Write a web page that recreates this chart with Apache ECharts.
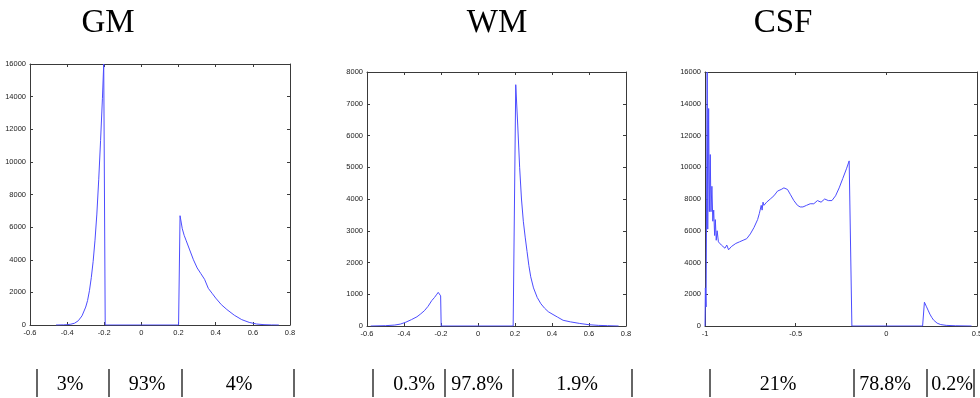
<!DOCTYPE html>
<html>
<head>
<meta charset="utf-8">
<script src="https://cdn.jsdelivr.net/npm/echarts@6/dist/echarts.min.js"></script>
<style>
  html, body { margin: 0; padding: 0; background: #fff; }
  #chart { width: 980px; height: 398px; }
</style>
</head>
<body>
<div id="chart"></div>
<script>
// panel titles and the share row under each panel
const titles = ['GM', 'WM', 'CSF']
const gmShares = ['3%', '93%', '4%']
const wmShares = ['0.3%', '97.8%', '1.9%']
const csfShares = ['21%', '78.8%', '0.2%']

// GM histogram
const gmX = [-0.46, -0.42, -0.40, -0.38, -0.36, -0.34, -0.32, -0.30, -0.29, -0.28, -0.27, -0.26, -0.25, -0.24, -0.23, -0.22, -0.21, -0.203, -0.195, 0, 0.2, 0.208, 0.22, 0.23, 0.24, 0.26, 0.28, 0.30, 0.32, 0.34, 0.36, 0.38, 0.40, 0.43, 0.46, 0.50, 0.54, 0.58, 0.62, 0.66, 0.70, 0.74]
const gmY = [0, 10, 20, 50, 110, 260, 560, 1100, 1500, 2100, 2900, 3900, 5200, 6800, 8900, 11300, 13900, 16000, 0, 0, 0, 6700, 5900, 5500, 5200, 4600, 4000, 3500, 3150, 2800, 2250, 1950, 1650, 1250, 950, 600, 330, 160, 60, 20, 5, 0]

// WM histogram
const wmX = [-0.58, -0.50, -0.45, -0.42, -0.39, -0.36, -0.33, -0.31, -0.29, -0.27, -0.25, -0.235, -0.225, -0.215, -0.207, -0.202, -0.199, 0.19, 0.204, 0.215, 0.225, 0.235, 0.245, 0.255, 0.265, 0.275, 0.285, 0.30, 0.32, 0.34, 0.36, 0.38, 0.40, 0.43, 0.46, 0.50, 0.55, 0.60, 0.65, 0.70, 0.76]
const wmY = [0, 10, 30, 60, 120, 200, 290, 380, 480, 620, 800, 900, 980, 1060, 1020, 950, 0, 0, 7600, 6300, 5000, 4000, 3300, 2800, 2350, 1900, 1550, 1200, 900, 700, 560, 450, 380, 280, 180, 130, 80, 40, 20, 10, 0]

// CSF histogram
const csfX = [-1.0, -0.998, -0.994, -0.988, -0.985, -0.980, -0.976, -0.971, -0.967, -0.962, -0.957, -0.952, -0.947, -0.943, -0.938, -0.933, -0.926, -0.918, -0.910, -0.900, -0.890, -0.880, -0.870, -0.862, -0.855, -0.845, -0.83, -0.81, -0.79, -0.77, -0.75, -0.73, -0.71, -0.70, -0.69, -0.685, -0.68, -0.675, -0.66, -0.64, -0.62, -0.60, -0.58, -0.565, -0.555, -0.545, -0.53, -0.51, -0.49, -0.475, -0.46, -0.44, -0.42, -0.40, -0.38, -0.36, -0.34, -0.32, -0.30, -0.28, -0.26, -0.24, -0.22, -0.205, -0.19, 0.2, 0.21, 0.22, 0.23, 0.24, 0.25, 0.26, 0.28, 0.30, 0.33, 0.38, 0.47]
const csfY = [0, 2400, 1200, 16000, 6100, 13700, 7200, 10800, 7200, 8800, 6600, 7300, 5700, 6700, 5400, 6000, 5300, 5400, 5100, 5000, 4900, 5100, 4800, 4700, 5000, 5100, 5200, 5300, 5400, 5500, 5800, 6200, 6700, 7100, 7600, 7300, 7800, 7600, 7800, 8000, 8200, 8500, 8600, 8700, 8600, 8600, 8300, 7900, 7600, 7500, 7500, 7600, 7700, 7700, 7900, 7800, 8000, 7900, 7900, 8200, 8700, 9300, 9900, 10400, 0, 0, 1500, 1250, 1000, 750, 550, 380, 180, 90, 40, 15, 0]

// axis ranges [min, max, interval]
const gmXAxis = [-0.6, 0.8, 0.2], gmYAxis = [0, 16000, 2000]
const wmXAxis = [-0.6, 0.8, 0.2], wmYAxis = [0, 8000, 1000]
const csfXAxis = [-1, 0.5, 0.5], csfYAxis = [0, 16000, 2000]

// layout (pixels)
const grids = [
  { left: 30, top: 64, width: 260, height: 261 },
  { left: 367, top: 72, width: 259, height: 254 },
  { left: 705, top: 72, width: 272, height: 254 },
]
const titleCenters = [108, 497, 783]
const shareCenters = [[70, 147, 239], [414, 477, 577], [778, 885, 952]]
const separators = [[37, 109, 182, 294], [373, 445, 513, 632], [710, 854, 927, 974]]

const zip = (xs, ys) => xs.map((x, i) => [x, ys[i]])
const panels = [
  { data: zip(gmX, gmY), xa: gmXAxis, ya: gmYAxis, shares: gmShares },
  { data: zip(wmX, wmY), xa: wmXAxis, ya: wmYAxis, shares: wmShares },
  { data: zip(csfX, csfY), xa: csfXAxis, ya: csfYAxis, shares: csfShares },
]

const labelFont = '"Liberation Sans Narrow", "Liberation Sans", Arial, sans-serif'
const boxColor = '#3a3a3a'

const xAxes = [], yAxes = [], series = [], graphic = []
panels.forEach((p, i) => {
  const base = {
    type: 'value',
    gridIndex: i,
    splitLine: { show: false },
    axisLine: { show: true, onZero: false, lineStyle: { color: boxColor, width: 1 } },
    axisTick: { show: true, inside: true, length: 3, lineStyle: { color: boxColor } },
  }
  xAxes.push({
    ...base, position: 'bottom', min: p.xa[0], max: p.xa[1], interval: p.xa[2],
    axisLabel: { color: '#222', fontSize: 7.5, fontFamily: labelFont, margin: 4, formatter: (v) => String(v) },
  })
  xAxes.push({
    ...base, position: 'top', min: p.xa[0], max: p.xa[1], interval: p.xa[2],
    axisLabel: { show: false },
  })
  yAxes.push({
    ...base, position: 'left', min: p.ya[0], max: p.ya[1], interval: p.ya[2],
    axisLabel: { color: '#222', fontSize: 7.5, fontFamily: labelFont, margin: 4, formatter: (v) => String(v) },
  })
  yAxes.push({
    ...base, position: 'right', min: p.ya[0], max: p.ya[1], interval: p.ya[2],
    axisLabel: { show: false },
  })
  series.push({
    type: 'line',
    xAxisIndex: i * 2,
    yAxisIndex: i * 2,
    data: p.data,
    showSymbol: false,
    lineStyle: { color: '#4c4cff', width: 1 },
    silent: true,
  })

  graphic.push({
    type: 'text', x: titleCenters[i], y: 23,
    style: {
      text: titles[i], fill: '#000', font: '33px "Liberation Serif", "Times New Roman", serif',
      align: 'center', verticalAlign: 'middle',
    },
  })
  p.shares.forEach((s, j) => {
    graphic.push({
      type: 'text', x: shareCenters[i][j], y: 385,
      style: {
        text: s, fill: '#000', font: '20px "Liberation Serif", "Times New Roman", serif',
        align: 'center', verticalAlign: 'middle',
      },
    })
  })
  separators[i].forEach((sx) => {
    graphic.push({
      type: 'line',
      shape: { x1: sx, y1: 369, x2: sx, y2: 397 },
      style: { stroke: '#333', lineWidth: 1.5 },
    })
  })
})

const chart = echarts.init(document.getElementById('chart'), null, { renderer: 'canvas' })
chart.setOption({
  animation: false,
  backgroundColor: '#fff',
  grid: grids.map((g) => ({ ...g, containLabel: false, outerBoundsMode: 'none' })),
  xAxis: xAxes,
  yAxis: yAxes,
  series,
  graphic,
})
</script>
</body>
</html>
